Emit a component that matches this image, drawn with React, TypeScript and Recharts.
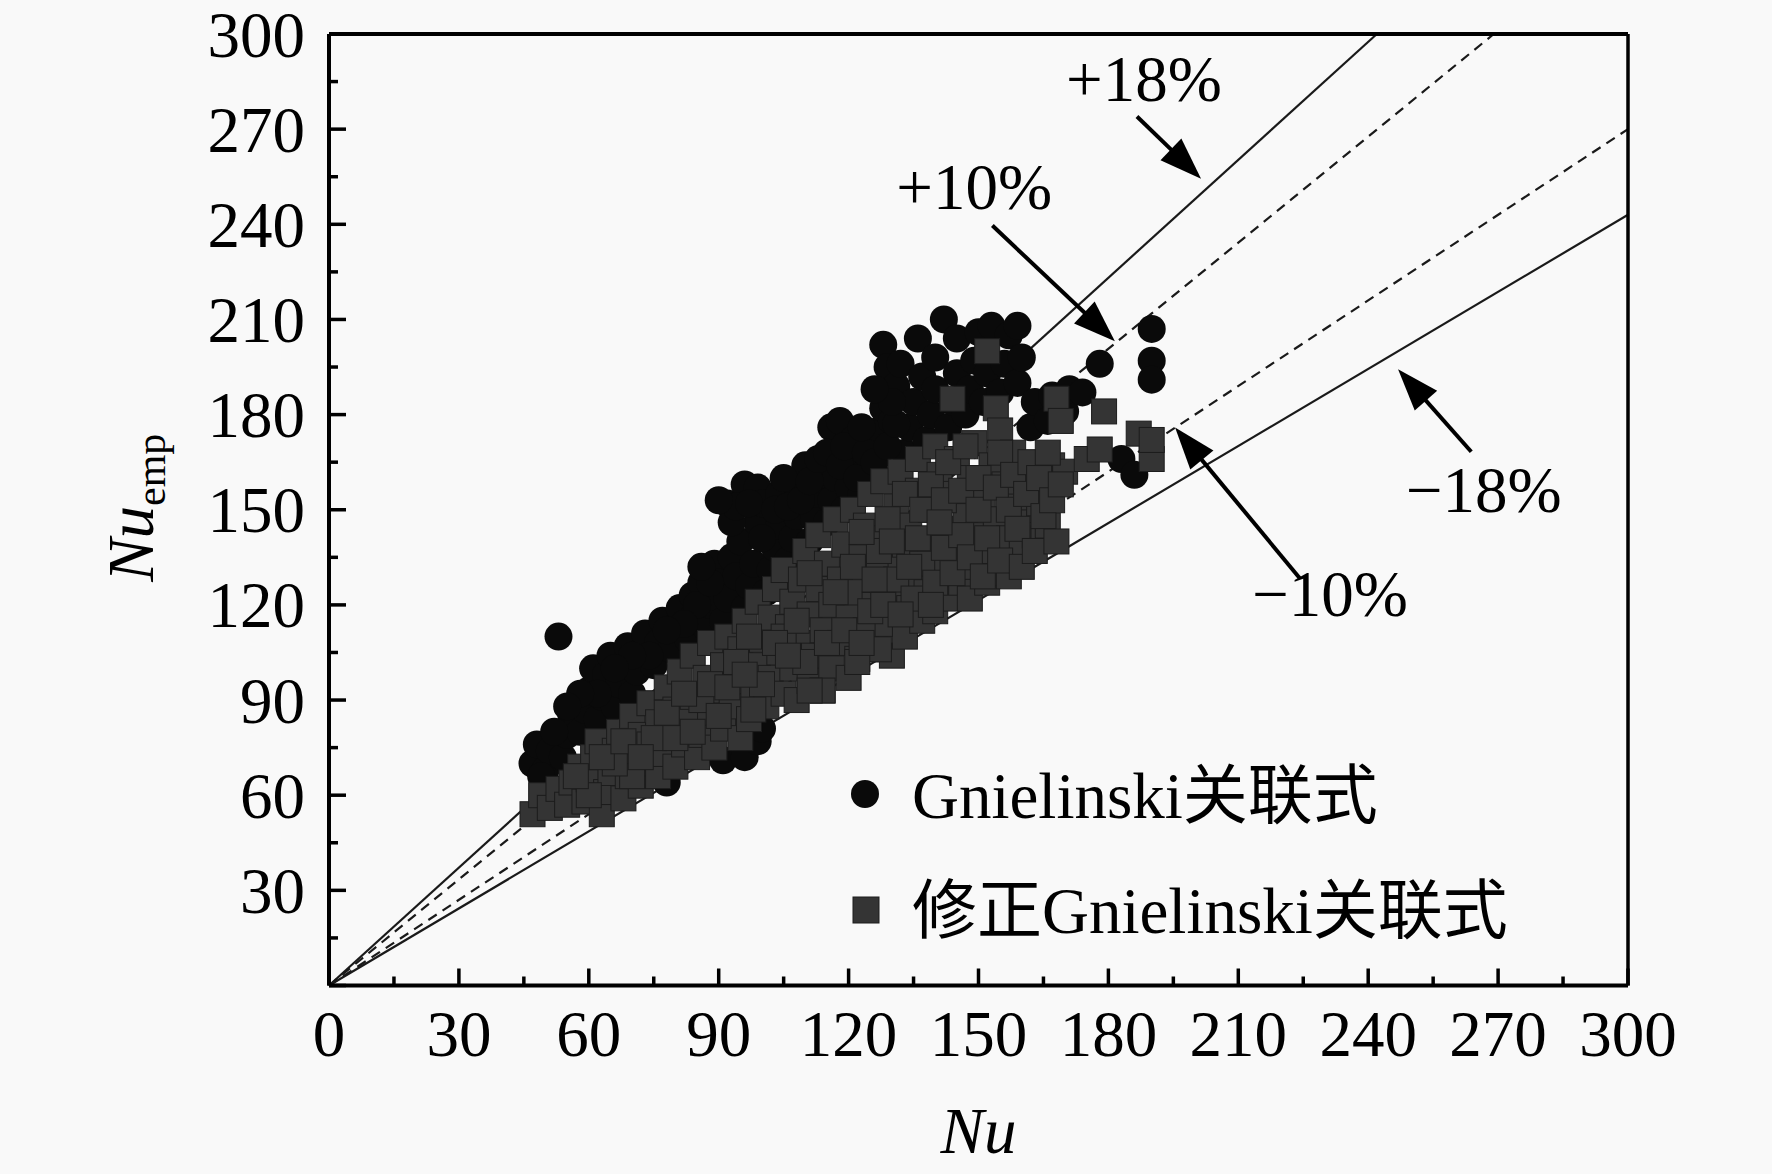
import React from 'react';
import { ScatterChart, Scatter, XAxis, YAxis, ReferenceLine, ReferenceDot, Legend } from 'recharts';

const FONT = '"Liberation Serif", "Times New Roman", "Noto Sans CJK SC", serif';

// ---- axis ticks ----
const majorTicks = [0, 30, 60, 90, 120, 150, 180, 210, 240, 270, 300];
const minorTicks = [15, 45, 75, 105, 135, 165, 195, 225, 255, 285];
const allTicks = [...majorTicks, ...minorTicks].sort((a, b) => a - b);

// ---- series names ----
const seriesNames = ['Gnielinski关联式', '修正Gnielinski关联式'];

// ---- Gnielinski correlation (Nu, Nu_emp) ----
const gnielinskiPoints: [number, number][] = [
  [47, 70], [48, 76], [50, 68], [51, 74], [53, 110], [54, 72], [55, 79], [56, 85],
  [58, 80], [59, 87], [60, 93], [61, 100], [62, 84], [63, 91], [64, 98], [65, 104],
  [66, 88], [67, 95], [68, 101], [69, 107], [70, 92], [71, 99], [72, 105], [73, 111],
  [75, 101], [76, 108], [77, 115], [79, 106], [80, 113], [81, 119],
  [83, 109], [84, 116], [84, 123], [86, 127], [87, 113], [88, 120], [89, 133], [90, 127],
  [91, 115], [92, 122], [92, 152], [93, 135], [94, 129], [95, 140], [96, 119], [96, 158],
  [97, 126], [98, 133], [99, 146], [99, 157], [100, 152],
  [101, 124], [102, 131], [103, 138], [104, 145], [104, 155], [106, 134], [107, 141],
  [108, 148], [108, 158], [110, 164], [111, 140], [112, 147], [113, 155], [114, 161],
  [115, 146], [116, 153], [116, 176], [117, 160], [118, 178], [119, 150], [120, 157],
  [121, 166], [121, 172], [123, 155], [124, 162], [125, 170],
  [127, 160], [127, 175], [128, 182], [128, 202], [129, 195], [130, 178], [131, 189],
  [132, 196], [133, 168], [134, 176], [135, 184], [136, 204], [137, 192], [138, 172],
  [139, 180], [140, 188], [140, 198], [142, 210], [143, 176], [144, 184], [145, 193],
  [145, 204], [147, 180], [148, 188], [149, 197], [150, 206], [151, 184], [152, 193],
  [153, 208], [155, 187], [156, 196], [157, 205], [159, 208], [159, 190], [160, 198],
  [162, 176], [163, 184], [166, 178], [167, 186], [170, 181], [171, 188], [174, 187],
  [178, 196], [183, 166], [186, 161], [190, 207], [190, 197], [190, 191],
  [72, 65], [78, 64], [91, 71], [96, 72], [99, 77], [100, 81],
  [93, 146], [94, 151], [97, 152], [100, 141], [103, 150], [105, 160], [106, 151],
  [109, 153], [111, 159], [113, 166], [115, 168], [118, 164], [119, 170], [122, 160],
  [124, 168], [126, 165], [123, 176], [129, 170], [131, 177], [130, 184], [126, 188],
  [85, 120], [82, 114], [78, 112], [74, 104], [70, 104], [66, 100], [62, 92], [58, 92],
  [55, 88], [52, 80], [49, 66], [88, 127], [86, 132], [90, 153],
];

// ---- modified Gnielinski correlation (Nu, Nu_emp) ----
const modifiedPoints: [number, number][] = [
  [47, 54], [49, 60], [51, 56], [53, 62], [55, 57], [56, 64], [58, 69], [59, 58], [60, 65],
  [61, 72], [62, 77], [63, 54], [64, 61], [65, 67], [66, 74], [67, 80], [68, 59], [69, 66],
  [70, 72], [70, 85], [72, 79], [72, 63], [73, 70], [74, 76], [74, 89], [76, 83], [76, 66],
  [77, 73], [78, 94], [79, 80], [80, 87], [80, 69], [81, 99], [82, 76], [83, 84], [84, 91],
  [84, 104], [85, 72], [86, 79], [87, 97], [88, 86], [88, 108], [89, 75], [90, 93], [91, 101],
  [91, 81], [92, 110], [93, 88], [94, 96], [95, 78], [95, 106], [96, 115], [97, 84], [98, 92],
  [99, 101], [99, 121], [100, 109], [101, 88], [102, 97], [102, 116], [103, 125], [104, 105],
  [105, 92], [105, 131], [106, 113], [107, 100], [107, 121], [108, 90], [109, 108], [109, 128],
  [110, 137], [111, 117], [111, 96], [112, 104], [113, 125], [113, 142], [114, 93], [114, 112],
  [115, 133], [116, 100], [116, 120], [117, 147], [118, 108], [118, 128], [119, 139], [120, 97],
  [120, 116], [121, 150], [122, 103], [122, 124], [123, 135], [124, 112], [124, 145], [125, 155],
  [126, 106], [126, 120], [127, 130], [128, 141], [128, 159], [129, 114], [130, 104], [130, 124],
  [131, 151], [132, 135], [132, 162], [133, 110], [134, 119], [134, 145], [135, 129], [136, 156],
  [136, 166], [137, 115], [138, 139], [138, 124], [139, 150], [140, 118], [140, 170], [141, 132],
  [141, 161], [142, 144], [143, 122], [144, 155], [144, 185], [145, 137], [145, 166], [146, 127],
  [147, 148], [148, 160], [148, 122], [149, 132], [149, 171], [150, 142], [151, 153], [152, 127],
  [152, 200], [153, 164], [153, 137], [154, 182], [154, 147], [155, 175], [156, 130], [156, 158],
  [157, 141], [158, 168], [159, 151], [160, 137], [161, 160], [162, 146], [163, 142], [164, 152],
  [165, 141], [166, 145], [167, 164], [168, 185], [170, 162], [175, 166], [178, 169], [179, 181],
  [187, 174], [190, 166], [190, 172], [127, 106], [122, 102], [114, 93], [111, 93], [157, 129],
  [125, 118], [127, 137], [129, 147], [131, 128], [133, 139], [133, 155], [135, 122], [137, 133],
  [137, 150], [139, 158], [140, 127], [142, 138], [142, 153], [143, 165], [144, 130], [146, 142],
  [146, 156], [147, 170], [148, 135], [150, 150], [150, 160], [151, 129], [152, 141], [154, 157],
  [155, 134], [155, 168], [157, 150], [158, 161], [159, 144], [160, 132], [161, 155], [162, 165],
  [163, 137], [164, 160], [165, 148], [166, 168], [167, 153], [168, 140], [169, 178], [169, 158],
  [105, 110], [108, 115], [110, 102], [111, 130], [115, 108], [117, 124], [119, 112], [121, 132],
  [123, 108], [123, 143], [126, 128], [128, 120], [130, 140], [132, 117], [134, 132], [136, 141],
  [139, 120], [141, 146], [86, 90], [90, 85], [94, 102], [97, 110], [100, 95], [103, 108],
  [106, 104], [78, 86], [82, 92], [75, 78], [70, 66], [66, 70], [60, 60], [57, 66], [63, 72],
  [68, 77], [72, 72], [80, 78], [84, 80], [88, 95], [92, 94], [96, 98], [98, 87],
];

// ---- deviation bands: end point of each line from the origin ----
const deviationLines = [
  { name: '+18%', end: [242, 300], dashed: false },
  { name: '+10%', end: [269, 300], dashed: true },
  { name: '-10%', end: [300, 270], dashed: true },
  { name: '-18%', end: [300, 243], dashed: false },
];

// ---- annotations (text center, arrow start, arrow tip) in data units ----
const annotations = [
  { text: '+18%', at: [188.2, 286], from: [186.6, 274], to: [201.4, 254.4] },
  { text: '+10%', at: [149, 252], from: [153.2, 239.6], to: [181.5, 203.1] },
  { text: '\u221210%', at: [231.2, 123.7], from: [224.2, 128.4], to: [195.4, 175.9] },
  { text: '\u221218%', at: [266.7, 156.5], from: [263.8, 168.3], to: [246.9, 194.3] },
];

const toXY = (pts: [number, number][]) => pts.map(([x, y]) => ({ x, y }));
const gnielinskiData = toXY(gnielinskiPoints);
const modifiedData = toXY(modifiedPoints);

const XTick = (props: any) => {
  const { x, y, payload } = props;
  const v = payload.value;
  const major = v % 30 === 0;
  return (
    <g>
      <line x1={x} x2={x} y1={y} y2={y - (major ? 17 : 9)} stroke="#000" strokeWidth={3.5} />
      {major && (
        <text x={x} y={y + 70} textAnchor="middle" fontSize={65} fontFamily={FONT} fill="#000">
          {v}
        </text>
      )}
    </g>
  );
};

const YTick = (props: any) => {
  const { x, y, payload } = props;
  const v = payload.value;
  const major = v % 30 === 0;
  return (
    <g>
      <line x1={x} x2={x + (major ? 17 : 9)} y1={y} y2={y} stroke="#000" strokeWidth={3.5} />
      {major && v !== 0 && (
        <text x={x - 24} y={y + 22.5} textAnchor="end" fontSize={65} fontFamily={FONT} fill="#000">
          {v}
        </text>
      )}
    </g>
  );
};

const CircleShape = (p: any) => <circle cx={p.cx} cy={p.cy} r={14} fill="#0a0a0a" />;
const SquareShape = (p: any) => (
  <rect x={p.cx - 12.5} y={p.cy - 12.5} width={25} height={25} fill="#343434" stroke="#1c1c1c" strokeWidth={1} />
);

const ArrowShape = (p: any) => {
  const { x1, y1, x2, y2 } = p;
  const dx = x2 - x1;
  const dy = y2 - y1;
  const len = Math.sqrt(dx * dx + dy * dy) || 1;
  const ux = dx / len;
  const uy = dy / len;
  const L = 42;
  const W = 15;
  const bx = x2 - ux * L;
  const by = y2 - uy * L;
  const pts = `${x2},${y2} ${bx - uy * W},${by + ux * W} ${bx + uy * W},${by - ux * W}`;
  return (
    <g>
      <line x1={x1} y1={y1} x2={bx + ux * 4} y2={by + uy * 4} stroke="#000" strokeWidth={4} />
      <polygon points={pts} fill="#000" />
    </g>
  );
};

const LegendContent = (props: any) => {
  const payload = props.payload || [];
  const names = seriesNames.map((n, i) => (payload[i] && payload[i].value) || n);
  return (
    <svg width={760} height={230} style={{ overflow: 'visible', display: 'block' }}>
      <circle cx={35} cy={54} r={14} fill="#0a0a0a" />
      <text x={82} y={78} fontSize={65} fontFamily={FONT} fill="#000">
        {names[0]}
      </text>
      <rect x={23} y={157} width={26} height={26} fill="#343434" stroke="#1c1c1c" strokeWidth={1} />
      <text x={82} y={193} fontSize={65} fontFamily={FONT} fill="#000">
        {names[1]}
      </text>
    </svg>
  );
};

export default function App() {
  return (
    <div
      style={{
        position: 'absolute',
        left: 0,
        top: 0,
        width: 1772,
        height: 1174,
        background: '#f9f9f9',
        overflow: 'hidden',
      }}
    >
      <ScatterChart width={1772} height={1174} margin={{ top: 34, right: 144, bottom: 128.5, left: 269 }}>
        <XAxis
          type="number"
          dataKey="x"
          domain={[0, 300]}
          ticks={allTicks}
          interval={0}
          height={60}
          tickSize={0}
          tickMargin={0}
          tickLine={false}
          tick={<XTick />}
          axisLine={{ stroke: '#000', strokeWidth: 4 }}
          allowDataOverflow
          label={{
            position: 'bottom',
            content: (lp: any) => {
              const vb = lp.viewBox || {};
              return (
                <text
                  x={vb.x + vb.width / 2}
                  y={vb.y + 167}
                  textAnchor="middle"
                  fontSize={65}
                  fontStyle="italic"
                  fontFamily={FONT}
                  fill="#000"
                >
                  Nu
                </text>
              );
            },
          }}
        />
        <YAxis
          type="number"
          dataKey="y"
          domain={[0, 300]}
          ticks={allTicks}
          interval={0}
          width={60}
          tickSize={0}
          tickMargin={0}
          tickLine={false}
          tick={<YTick />}
          axisLine={{ stroke: '#000', strokeWidth: 4 }}
          allowDataOverflow
          label={{
            position: 'left',
            content: (lp: any) => {
              const vb = lp.viewBox || {};
              const cx = vb.x + vb.width - 176;
              const cy = vb.y + vb.height / 2 - 2;
              return (
                <text
                  x={cx}
                  y={cy}
                  transform={`rotate(-90, ${cx}, ${cy})`}
                  textAnchor="middle"
                  fontFamily={FONT}
                  fill="#000"
                >
                  <tspan fontSize={65} fontStyle="italic">
                    Nu
                  </tspan>
                  <tspan fontSize={42} dy={12}>
                    emp
                  </tspan>
                </text>
              );
            },
          }}
        />
        <Legend
          layout="horizontal"
          verticalAlign="middle"
          align="center"
          wrapperStyle={{ position: 'absolute', left: 830, top: 740, width: 760, height: 230 }}
          content={<LegendContent />}
        />
        <Scatter
          name={seriesNames[0]}
          data={gnielinskiData}
          fill="#0a0a0a"
          shape={CircleShape}
          isAnimationActive={false}
        />
        <Scatter
          name={seriesNames[1]}
          data={modifiedData}
          fill="#343434"
          shape={SquareShape}
          isAnimationActive={false}
        />
        {deviationLines.map((d) => (
          <ReferenceLine
            key={d.name}
            segment={[
              { x: 0, y: 0 },
              { x: d.end[0], y: d.end[1] },
            ]}
            stroke="#1a1a1a"
            strokeWidth={2.2}
            strokeDasharray={d.dashed ? '10 7' : undefined}
            ifOverflow="visible"
          />
        ))}
        <ReferenceLine y={300} stroke="#000" strokeWidth={4} ifOverflow="visible" />
        <ReferenceLine x={300} stroke="#000" strokeWidth={3.5} ifOverflow="visible" />
        {annotations.map((a) => (
          <ReferenceLine
            key={'arrow' + a.text}
            segment={[
              { x: a.from[0], y: a.from[1] },
              { x: a.to[0], y: a.to[1] },
            ]}
            ifOverflow="visible"
            shape={ArrowShape}
          />
        ))}
        {annotations.map((a) => (
          <ReferenceDot
            key={'label' + a.text}
            x={a.at[0]}
            y={a.at[1]}
            r={0}
            fill="none"
            stroke="none"
            ifOverflow="visible"
            label={{
              position: 'center',
              content: (lp: any) => {
                const vb = lp.viewBox || {};
                return (
                  <text
                    x={vb.x + (vb.width || 0) / 2}
                    y={vb.y + (vb.height || 0) / 2 + 23}
                    textAnchor="middle"
                    fontSize={65}
                    fontFamily={FONT}
                    fill="#000"
                  >
                    {a.text}
                  </text>
                );
              },
            }}
          />
        ))}
      </ScatterChart>
    </div>
  );
}
